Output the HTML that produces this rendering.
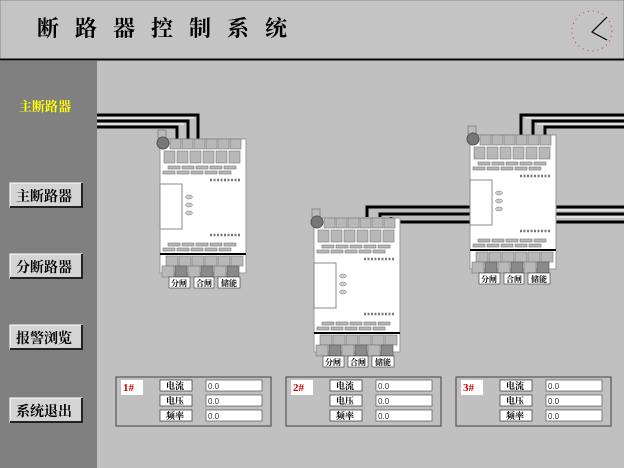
<!DOCTYPE html>
<html><head><meta charset="utf-8"><style>
body{margin:0;width:624px;height:468px;overflow:hidden;background:#c0c0c0;font-family:"Liberation Serif","Noto Serif CJK SC",serif}
</style></head><body>
<svg width="624" height="468" viewBox="0 0 624 468" xmlns="http://www.w3.org/2000/svg" style="position:absolute;left:0;top:0">
<defs>
<g id="plc">
<rect x="-2" y="-9" width="8" height="8" fill="#bbb" stroke="#888"/>
<rect x="0" y="0" width="86" height="134" fill="#fff" stroke="#999"/>
<g fill="#b8b8b8" stroke="#777" stroke-width="0.6">
<rect x="10" y="0" width="11" height="10"/><rect x="22" y="0" width="11" height="10"/><rect x="34" y="0" width="11" height="10"/><rect x="46" y="0" width="11" height="10"/><rect x="58" y="0" width="11" height="10"/><rect x="70" y="0" width="11" height="10"/>
<rect x="4" y="12" width="11" height="12"/><rect x="17" y="12" width="11" height="12"/><rect x="30" y="12" width="11" height="12"/><rect x="43" y="12" width="11" height="12"/><rect x="56" y="12" width="11" height="12"/><rect x="69" y="12" width="11" height="12"/>
<rect x="8" y="27" width="12" height="3"/><rect x="22" y="27" width="12" height="3"/><rect x="36" y="27" width="12" height="3"/><rect x="50" y="27" width="12" height="3"/><rect x="64" y="27" width="12" height="3"/>
<rect x="3" y="32" width="12" height="3"/><rect x="17" y="32" width="12" height="3"/><rect x="31" y="32" width="12" height="3"/><rect x="45" y="32" width="12" height="3"/><rect x="59" y="32" width="12" height="3"/>
<rect x="8" y="104" width="12" height="3"/><rect x="22" y="104" width="12" height="3"/><rect x="36" y="104" width="12" height="3"/><rect x="50" y="104" width="12" height="3"/><rect x="64" y="104" width="12" height="3"/>
<rect x="3" y="109" width="12" height="3"/><rect x="17" y="109" width="12" height="3"/><rect x="31" y="109" width="12" height="3"/><rect x="45" y="109" width="12" height="3"/><rect x="59" y="109" width="12" height="3"/>
<rect x="6" y="117" width="12" height="10"/><rect x="19" y="117" width="12" height="10"/><rect x="32" y="117" width="12" height="10"/><rect x="45" y="117" width="12" height="10"/><rect x="58" y="117" width="12" height="10"/><rect x="71" y="117" width="12" height="10"/>
<rect x="2" y="127" width="12" height="11"/><rect x="28" y="127" width="12" height="11"/><rect x="54" y="127" width="12" height="11"/>
</g>
<g fill="#8a8a8a" stroke="#555" stroke-width="0.6"><rect x="15" y="127" width="12" height="11"/><rect x="41" y="127" width="12" height="11"/><rect x="67" y="127" width="12" height="11"/></g>
<rect x="0" y="45" width="22" height="45" fill="#fff" stroke="#888"/>
<g fill="#ccc" stroke="#777" stroke-width="0.5"><ellipse cx="29" cy="58" rx="3.5" ry="2"/><ellipse cx="29" cy="66" rx="3.5" ry="2"/><ellipse cx="29" cy="74" rx="3.5" ry="2"/></g>
<g fill="none" stroke="#777" stroke-width="0.6"><path d="M50 41h30M50 96h30" stroke-dasharray="2 1.5" stroke-width="2.5"/></g>
<line x1="0" y1="115" x2="86" y2="115" stroke="#000" stroke-width="2"/>
<circle cx="3" cy="4" r="6" fill="#777" stroke="#555"/>
<g font-size="8" font-weight="bold" fill="#000">
<rect x="9" y="138" width="21" height="11" fill="#fff" stroke="#333" stroke-width="0.6"/><text x="11" y="147">分闸</text>
<rect x="34" y="138" width="20" height="11" fill="#fff" stroke="#333" stroke-width="0.6"/><text x="36" y="147">合闸</text>
<rect x="58" y="138" width="22" height="11" fill="#fff" stroke="#333" stroke-width="0.6"/><text x="61" y="147">储能</text>
</g>
</g>
<g id="panel">
<rect x="0" y="0" width="155" height="49" fill="none" stroke="#555" stroke-width="1.2"/>
<rect x="5" y="3" width="22" height="15" fill="#fff"/>
<g font-size="9" font-weight="bold">
<rect x="44" y="3" width="32" height="11" fill="#fff" stroke="#333" stroke-width="0.7"/><text x="50" y="12">电流</text>
<rect x="44" y="18" width="32" height="11" fill="#fff" stroke="#333" stroke-width="0.7"/><text x="50" y="27">电压</text>
<rect x="44" y="33" width="32" height="11" fill="#fff" stroke="#333" stroke-width="0.7"/><text x="50" y="42">频率</text>
</g>
<g font-family="Liberation Sans,sans-serif" font-size="8" fill="#333">
<rect x="90" y="3" width="56" height="11" fill="#fff" stroke="#555" stroke-width="0.7"/><text x="92" y="12">0.0</text>
<rect x="90" y="18" width="56" height="11" fill="#fff" stroke="#555" stroke-width="0.7"/><text x="92" y="27">0.0</text>
<rect x="90" y="33" width="56" height="11" fill="#fff" stroke="#555" stroke-width="0.7"/><text x="92" y="42">0.0</text>
</g>
</g>
</defs>
<rect x="0" y="0" width="624" height="59" fill="#c4c4c4" stroke="#888"/>
<line x1="0" y1="59.5" x2="624" y2="59.5" stroke="#000" stroke-width="2"/>
<text x="37" y="36" font-size="22" font-weight="bold" letter-spacing="16">断路器控制系统</text>
<circle cx="592" cy="31" r="20" fill="none" stroke="#d33" stroke-width="1" stroke-dasharray="1 4"/>
<path d="M607 17L592 32L607 40" fill="none" stroke="#000" stroke-width="1.2"/>
<rect x="0" y="61" width="97" height="407" fill="#808080"/>
<text x="19" y="111" font-size="13" font-weight="bold" fill="#ff0">主断路器</text>
<g font-size="14" font-weight="bold">
<rect x="10" y="183" width="72" height="24" fill="#d4d4d4" stroke="#fff"/><path d="M10 207H82V183" fill="none" stroke="#222" stroke-width="2"/><text x="16" y="201">主断路器</text>
<rect x="10" y="254" width="72" height="24" fill="#d4d4d4" stroke="#fff"/><path d="M10 278H82V254" fill="none" stroke="#222" stroke-width="2"/><text x="16" y="272">分断路器</text>
<rect x="10" y="325" width="72" height="24" fill="#d4d4d4" stroke="#fff"/><path d="M10 349H82V325" fill="none" stroke="#222" stroke-width="2"/><text x="16" y="343">报警浏览</text>
<rect x="10" y="398" width="72" height="24" fill="#d4d4d4" stroke="#fff"/><path d="M10 422H82V398" fill="none" stroke="#222" stroke-width="2"/><text x="16" y="416">系统退出</text>
</g>
<g fill="none" stroke="#000" stroke-width="3">
<path d="M97 115H198V139M97 121H188V139M97 127H177V139"/>
<path d="M624 115H521V135M624 121H533V135M624 127H545V135"/>
<path d="M367 217V207H624M380 217V214H624M391 217V222H624"/>
</g>
<g fill="none" stroke="#fff" stroke-width="1">
<path d="M97 118H194M97 124H184"/>
<path d="M624 118H525M624 124H537"/>
<path d="M470 210H624M470 217H624"/>
</g>
<use href="#plc" x="160" y="139"/>
<use href="#plc" x="314" y="218"/>
<use href="#plc" x="470" y="135"/>
<use href="#panel" x="116" y="377"/>
<use href="#panel" x="286" y="377"/>
<use href="#panel" x="456" y="377"/>
<g font-size="11" font-weight="bold" fill="#c00">
<text x="123" y="391">1#</text><text x="293" y="391">2#</text><text x="463" y="391">3#</text>
</g>
</svg>
</body></html>
